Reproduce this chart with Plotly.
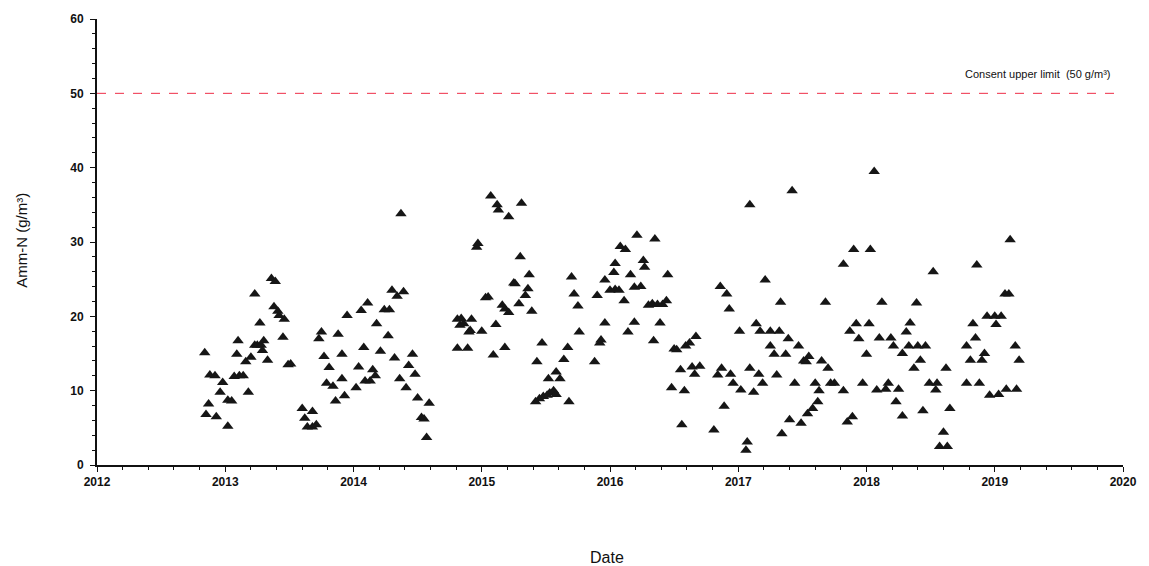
import plotly.graph_objects as go

# Sampling dates (decimal years) and ammonia-nitrogen results (g/m³)
dates = [
    2012.84, 2012.88, 2012.92, 2012.98, 2012.96, 2012.87, 2012.85, 2012.93, 2013.02, 2013.02,
    2013.05, 2013.07, 2013.11, 2013.14, 2013.18, 2013.09, 2013.10, 2013.16, 2013.20, 2013.23,
    2013.25, 2013.28, 2013.30, 2013.29, 2013.33, 2013.23, 2013.27, 2013.36, 2013.39, 2013.38,
    2013.41, 2013.42, 2013.46, 2013.45, 2013.49, 2013.51, 2013.60, 2013.62, 2013.64, 2013.68,
    2013.71, 2013.68, 2013.75, 2013.73, 2013.77, 2013.81, 2013.79, 2013.84, 2013.86, 2013.88,
    2013.91, 2013.91, 2013.93, 2013.95, 2014.02, 2014.04, 2014.06, 2014.08, 2014.09, 2014.13,
    2014.11, 2014.15, 2014.17, 2014.18, 2014.21, 2014.24, 2014.28, 2014.27, 2014.30, 2014.34,
    2014.39, 2014.32, 2014.36, 2014.41, 2014.43, 2014.46, 2014.48, 2014.50, 2014.53, 2014.55,
    2014.59, 2014.57, 2014.37,
    2014.81, 2014.84, 2014.92, 2014.83, 2014.86, 2014.90, 2014.91, 2015.00, 2014.81, 2014.89,
    2014.96, 2014.97, 2015.05, 2015.03, 2015.07, 2015.12, 2015.13, 2015.21, 2015.31, 2015.11,
    2015.09, 2015.18, 2015.16, 2015.18, 2015.21, 2015.25, 2015.26, 2015.30, 2015.29, 2015.34,
    2015.36, 2015.37, 2015.39, 2015.47, 2015.43, 2015.42, 2015.45, 2015.48, 2015.51, 2015.53,
    2015.56, 2015.58, 2015.52, 2015.58, 2015.61, 2015.68, 2015.64, 2015.67, 2015.70, 2015.72,
    2015.75, 2015.76, 2015.88, 2015.90, 2015.92, 2015.93, 2015.96, 2015.96, 2016.00, 2016.04,
    2016.07, 2016.04, 2016.03, 2016.08, 2016.12, 2016.11, 2016.14, 2016.16, 2016.19, 2016.19,
    2016.24, 2016.21, 2016.26, 2016.27, 2016.30, 2016.33, 2016.37, 2016.41, 2016.44, 2016.35,
    2016.34, 2016.39, 2016.45, 2016.50, 2016.52, 2016.59, 2016.62, 2016.67, 2016.48, 2016.58,
    2016.55, 2016.64, 2016.66, 2016.70, 2016.56,
    2016.81, 2016.86, 2016.91, 2016.93, 2016.87, 2016.84, 2016.94, 2016.96, 2016.89, 2017.02,
    2017.01, 2017.06, 2017.07, 2017.09, 2017.12, 2017.14, 2017.17, 2017.25, 2017.32, 2017.16,
    2017.19, 2017.21, 2017.25, 2017.28, 2017.30, 2017.33, 2017.37, 2017.39, 2017.34, 2017.40,
    2017.44, 2017.47, 2017.49, 2017.54, 2017.58, 2017.62, 2017.51, 2017.55, 2017.53, 2017.60,
    2017.63, 2017.65, 2017.68, 2017.70, 2017.72, 2017.75, 2017.82, 2017.82, 2017.90, 2018.03,
    2017.87, 2017.92, 2018.02, 2017.94, 2018.00, 2017.97, 2017.85, 2017.89, 2018.08, 2018.15,
    2018.10, 2018.19, 2018.12, 2018.06, 2017.09, 2017.42,
    2018.21, 2018.34, 2018.31, 2018.33, 2018.40, 2018.46, 2018.28, 2018.42, 2018.37, 2018.17,
    2018.25, 2018.23, 2018.28, 2018.49, 2018.55, 2018.54, 2018.44, 2018.62, 2018.65, 2018.60,
    2018.57, 2018.63, 2018.39, 2018.52, 2018.86, 2019.12, 2019.08, 2019.11, 2018.94, 2019.00,
    2019.05, 2019.01, 2018.83, 2018.85, 2018.78, 2018.81, 2018.90, 2018.92, 2018.78, 2018.88,
    2018.96, 2019.03, 2019.09, 2019.17, 2019.16, 2019.19,
]
amm_n = [
    15.1, 12.1, 12.0, 11.1, 9.8, 8.2, 6.8, 6.5, 5.2, 8.7,
    8.6, 11.9, 12.0, 12.0, 9.8, 14.9, 16.7, 13.9, 14.5, 16.1,
    16.1, 16.1, 16.7, 15.4, 14.1, 23.0, 19.1, 25.1, 24.7, 21.3,
    20.7, 20.1, 19.6, 17.2, 13.5, 13.6, 7.6, 6.3, 5.1, 5.1,
    5.4, 7.2, 17.9, 17.0, 14.6, 13.1, 11.0, 10.6, 8.6, 17.6,
    14.9, 11.6, 9.3, 20.1, 10.4, 13.2, 20.8, 15.8, 11.3, 11.3,
    21.8, 12.8, 12.0, 19.0, 15.3, 20.9, 20.9, 17.4, 23.5, 22.7,
    23.3, 14.4, 11.6, 10.4, 13.4, 14.9, 12.2, 9.0, 6.4, 6.2,
    8.3, 3.7, 33.8,
    19.6, 19.7, 19.6, 18.8, 19.0, 17.9, 18.1, 18.0, 15.7, 15.7,
    29.3, 29.8, 22.6, 22.5, 36.2, 35.0, 34.3, 33.4, 35.2, 18.9,
    14.8, 15.8, 21.5, 21.0, 20.5, 24.5, 24.4, 28.0, 21.7, 22.8,
    23.7, 25.6, 20.7, 16.4, 13.9, 8.5, 8.9, 9.2, 9.4, 9.7,
    10.0, 9.5, 11.6, 12.5, 11.6, 8.5, 14.2, 15.8, 25.3, 23.0,
    21.4, 17.9, 13.9, 22.8, 16.4, 16.8, 19.1, 24.9, 23.5, 23.6,
    23.5, 27.1, 25.9, 29.4, 29.0, 22.1, 17.9, 25.6, 19.2, 23.9,
    24.0, 30.9, 27.5, 26.6, 21.5, 21.7, 21.6, 21.6, 22.1, 30.4,
    16.7, 19.1, 25.6, 15.6, 15.5, 16.0, 16.4, 17.3, 10.4, 10.0,
    12.8, 13.2, 12.2, 13.3, 5.4,
    4.7, 24.0, 23.0, 21.0, 13.0, 12.1, 12.2, 11.0, 7.9, 10.1,
    18.0, 2.0, 3.1, 13.0, 9.8, 19.0, 18.0, 18.0, 18.0, 12.2,
    11.0, 24.9, 16.0, 14.9, 12.1, 21.9, 14.9, 17.0, 4.2, 6.1,
    11.0, 16.0, 5.6, 6.9, 7.6, 8.5, 14.0, 14.6, 13.9, 11.0,
    10.0, 14.0, 21.9, 13.0, 11.0, 11.0, 10.0, 27.0, 29.0, 29.0,
    18.0, 19.0, 19.0, 17.0, 14.9, 11.0, 5.8, 6.5, 10.1, 10.2,
    17.1, 17.1, 21.9, 39.5, 35.0, 36.9,
    16.0, 19.1, 17.9, 16.0, 16.0, 16.0, 15.0, 14.1, 13.0, 11.0,
    10.2, 8.5, 6.6, 11.0, 11.0, 10.1, 7.3, 13.0, 7.6, 4.4,
    2.5, 2.5, 21.8, 26.0, 26.9, 30.3, 23.0, 23.0, 20.0, 20.0,
    20.0, 18.9, 19.0, 17.1, 16.0, 14.1, 14.1, 15.0, 11.0, 11.0,
    9.4, 9.5, 10.2, 10.2, 16.0, 14.1,
]

# Consent limit and axis extents
consent_limit = 50
limit_label = "Consent upper limit  (50 g/m³)"
year_range = [2012, 2020]
year_ticks = list(range(2012, 2021))
y_range = [0, 60]

FONT = "Liberation Sans, Arial, sans-serif"

fig = go.Figure()

fig.add_trace(go.Scatter(
    x=year_range, y=[consent_limit, consent_limit],
    mode="lines",
    line=dict(color="#ee2e48", width=1, dash="dash"),
    hoverinfo="skip", showlegend=False,
))

fig.add_trace(go.Scatter(
    x=dates, y=amm_n,
    mode="markers",
    marker=dict(symbol="triangle-up", size=10, color="#161616",
                line=dict(width=0)),
    showlegend=False,
))

fig.add_annotation(
    x=2019.92, y=52.6, xref="x", yref="y",
    text=limit_label, showarrow=False, xanchor="right", yanchor="middle",
    font=dict(family=FONT, size=11, color="#111"),
)

# Axis titles
fig.add_annotation(
    x=0.497, y=-0.208, xref="paper", yref="paper",
    text="Date", showarrow=False, xanchor="center", yanchor="middle",
    font=dict(family=FONT, size=16, color="#111"),
)
fig.add_annotation(
    x=-0.073, y=0.503, xref="paper", yref="paper",
    text="Amm-N (g/m³)", showarrow=False, textangle=-90,
    xanchor="center", yanchor="middle",
    font=dict(family=FONT, size=15, color="#111"),
)

axis_font = dict(family=FONT, size=12, color="#111", weight="bold")

fig.update_xaxes(
    range=year_range, tickvals=year_ticks, ticktext=[str(t) for t in year_ticks],
    showgrid=False, zeroline=False,
    showline=True, linecolor="#111", linewidth=2,
    ticks="outside", ticklen=5, tickwidth=1.2, tickcolor="#111",
    minor=dict(dtick=0.2, ticks="outside", ticklen=3, tickcolor="#111", tickwidth=1),
    tickfont=axis_font,
)
fig.update_yaxes(
    range=y_range, dtick=10, tick0=0,
    showgrid=False, zeroline=False,
    showline=True, linecolor="#111", linewidth=2,
    ticks="outside", ticklen=5, tickwidth=1.2, tickcolor="#111",
    minor=dict(dtick=2, ticks="outside", ticklen=3, tickcolor="#111", tickwidth=1),
    tickfont=axis_font, ticklabelstandoff=4,
)

fig.update_layout(
    width=1149, height=566,
    margin=dict(l=97, r=20, t=18, b=101),
    plot_bgcolor="white", paper_bgcolor="white",
    hovermode="closest",
)

fig.write_html("out.html")
